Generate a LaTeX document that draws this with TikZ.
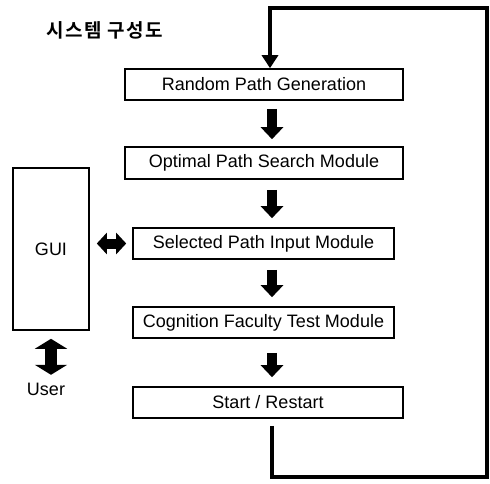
\documentclass[tikz,border=0pt]{standalone}
\usepackage{fontspec}
\setmainfont{Liberation Sans}
\newfontfamily\kofont[LetterSpace=8]{Noto Sans CJK KR Bold}
\usetikzlibrary{arrows.meta}
\begin{document}
\begin{tikzpicture}[x=1pt,y=-1pt,
  box/.style={draw,line width=1.6pt,inner sep=0pt,font=\fontsize{18}{20}\selectfont},
  blockarrow/.style={line width=10pt,-{Triangle[width=22pt,length=12pt]}},
  dblarrow/.style={line width=10pt,{Triangle[width=21pt,length=10pt]}-{Triangle[width=21pt,length=10pt]}},
  loopline/.style={line width=4pt,line join=miter,-{Triangle[width=16pt,length=13pt]}}]
\useasboundingbox (0,0) rectangle (490,484);
\node[font=\kofont\fontsize{19}{22}\selectfont] (title) at (105,30) {시스템 구성도};
\node[box,minimum width=278pt,minimum height=31pt] (rand) at (264,84.5) {Random Path Generation};
\node[box,minimum width=278pt,minimum height=32pt] (opt) at (264,163) {Optimal Path Search Module};
\node[box,minimum width=261pt,minimum height=31pt] (sel) at (263.5,243.5) {Selected Path Input Module};
\node[box,minimum width=261pt,minimum height=31pt] (cog) at (263.5,322.5) {Cognition Faculty Test Module};
\node[box,minimum width=270pt,minimum height=31pt] (start) at (268,402.5) {Start / Restart};
\node[box,minimum width=76pt,minimum height=162pt] (gui) at (51,249) {GUI};
\node[font=\fontsize{18}{20}\selectfont] (user) at (46,389) {User};
\coordinate (ax) at (272,0);
\draw[blockarrow] ([yshift=-8pt]ax |- rand.south) -- ([yshift=7pt]ax |- opt.north);
\draw[blockarrow] ([yshift=-10pt]ax |- opt.south) -- ([yshift=9pt]ax |- sel.north);
\draw[blockarrow] ([yshift=-10pt]ax |- sel.south) -- ([yshift=9pt]ax |- cog.north);
\draw[blockarrow] ([yshift=-14pt]ax |- cog.south) -- ([yshift=9pt]ax |- start.north);
\draw[dblarrow] ([xshift=7pt]gui.east |- sel.west) -- ([xshift=-6pt]sel.west);
\draw[line width=12pt,{Triangle[width=32pt,length=10pt]}-{Triangle[width=32pt,length=10pt]}] ([yshift=-8pt]gui.south) -- ([yshift=-44pt]gui.south);
\coordinate (lb) at (272,477);
\coordinate (rb) at (487,477);
\coordinate (rt) at (487,8);
\coordinate (lt) at (270,8);
\draw[loopline] ([yshift=-7pt]lb |- start.south) -- (lb) -- (rb) -- (rt) -- (lt) -- (lt |- rand.north);
\end{tikzpicture}
\end{document}
